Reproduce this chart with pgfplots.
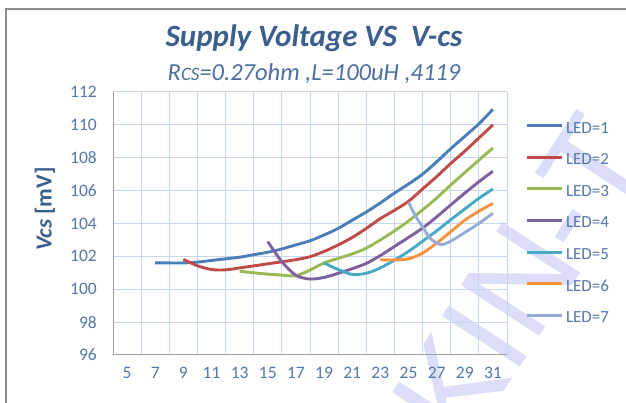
\documentclass[border=0pt]{standalone}
\usepackage{fontspec}
\setmainfont{Carlito}
\newfontfamily\wmfont{Liberation Sans}
\usepackage{pgfplots}
\pgfplotsset{compat=1.18}
\definecolor{cA}{HTML}{4A7EBB}
\definecolor{cB}{HTML}{BE4B48}
\definecolor{cC}{HTML}{98B954}
\definecolor{cD}{HTML}{7D60A0}
\definecolor{cE}{HTML}{46AAC5}
\definecolor{cF}{HTML}{F69240}
\definecolor{cG}{HTML}{95ADD6}
\definecolor{titleblue}{HTML}{3A5F8E}
\definecolor{subblue}{HTML}{4A6FA0}
\definecolor{tickblue}{HTML}{5577A8}
\definecolor{gridblue}{HTML}{C6D6EE}
\definecolor{axisgray}{HTML}{A0A0A0}
\definecolor{framegray}{HTML}{8C8C8C}
\definecolor{wm}{HTML}{DCDEF9}
\begin{document}
\begin{tikzpicture}[x=1pt,y=1pt]
\useasboundingbox (0,0) rectangle (626,403);
\fill[white] (0,0) rectangle (626,403);
\begin{scope}[every node/.style={rotate=57, anchor=base west, inner sep=0pt, font=\fontsize{135}{135}\selectfont\wmfont, color=wm}]
\node at (464,-50) {K};
\node at (513.0,25.5) {I};
\node at (533.4,56.9) {N};
\node at (586.5,138.7) {-};
\node at (611.0,176.4) {T};
\end{scope}
\draw[framegray, line width=1.3pt] (6,-10) -- (6,394) -- (660,394);
\node[font=\fontsize{31}{31}\selectfont\bfseries\itshape, color=titleblue, anchor=base] at (314,356.3) {Supply Voltage VS\ \ V-cs};
\node[font=\fontsize{24.5}{24.5}\selectfont\itshape, color=subblue, anchor=base] at (314,322.3) {R{\fontsize{19}{19}\selectfont CS}=0.27ohm ,L=100uH ,4119};
\begin{axis}[
  at={(113pt,48pt)}, anchor=south west,
  scale only axis, width=394pt, height=263pt,
  xmin=4, xmax=32, ymin=96, ymax=112,
  xtick={5,7,...,31}, minor xtick={4,6,...,32},
  ytick={96,98,...,112},
  xmajorgrids=false, xminorgrids=true, ymajorgrids=true,
  grid style={color=gridblue, line width=1pt},
  minor grid style={color=gridblue, line width=1pt},
  major tick length=0pt, minor tick length=0pt,
  tick style={draw=none},
  axis line style={draw=none},
  /pgf/number format/assume math mode=true,
  ticklabel style={font=\fontsize{17.5}{17.5}\selectfont, color=tickblue},
  xticklabel style={inner sep=0pt, anchor=north, yshift=-12pt},
  yticklabel style={inner sep=0pt, anchor=east, xshift=-16pt},
  ylabel={\textbf{\textit{Vcs}} \textbf{[mV]}},
  ylabel style={at={(axis description cs:-0.1726,0.555)}, anchor=center, font=\fontsize{23}{23}\selectfont, color=titleblue},
  legend style={at={(axis description cs:1.0457,0.8852)}, anchor=north west, draw=none, fill=none,
    inner sep=0pt, outer sep=0pt, row sep=20.6pt, column sep=3pt,
    font=\fontsize{17}{17}\selectfont, text=tickblue,
    nodes={inner sep=0pt, text height=11pt, text depth=0pt}},
  legend cell align=left,
  legend image code/.code={\draw[#1, line width=3pt] (0pt,2pt) -- (35pt,2pt);},
  every axis plot/.append style={line width=2.9pt, smooth, tension=0.5, no markers},
]
\addplot[cA] coordinates {(7,101.6)(8,101.6)(9,101.6)(10,101.65)(11,101.75)(12,101.85)(13,101.95)(14,102.1)(15,102.25)(16,102.45)(17,102.7)(18,102.95)(19,103.3)(20,103.7)(21,104.2)(22,104.7)(23,105.25)(24,105.85)(25,106.4)(26,107.0)(27,107.75)(28,108.55)(29,109.3)(30,110.06)(31,110.95)};
\addplot[cB] coordinates {(9,101.82)(10,101.43)(11,101.2)(12,101.18)(13,101.3)(14,101.42)(15,101.55)(16,101.67)(17,101.8)(18,101.98)(19,102.3)(20,102.69)(21,103.15)(22,103.7)(23,104.3)(24,104.8)(25,105.35)(26,106.1)(27,106.85)(28,107.65)(29,108.4)(30,109.2)(31,110.0)};
\addplot[cC] coordinates {(13,101.1)(14,101.0)(15,100.92)(16,100.86)(17,100.82)(18,101.17)(19,101.6)(20,101.88)(21,102.15)(22,102.5)(23,103.0)(24,103.55)(25,104.15)(26,104.83)(27,105.55)(28,106.34)(29,107.1)(30,107.85)(31,108.6)};
\addplot[cD] coordinates {(15,102.9)(16,101.67)(17,100.85)(18,100.62)(19,100.72)(20,100.97)(21,101.25)(22,101.57)(23,102.05)(24,102.6)(25,103.15)(26,103.72)(27,104.4)(28,105.13)(29,105.85)(30,106.54)(31,107.18)};
\addplot[cE] coordinates {(19,101.6)(20,101.2)(21,100.9)(22,100.97)(23,101.3)(24,101.77)(25,102.3)(26,102.92)(27,103.55)(28,104.23)(29,104.88)(30,105.53)(31,106.1)};
\addplot[cF] coordinates {(23,101.8)(24,101.78)(25,101.85)(26,102.2)(27,102.8)(28,103.5)(29,104.2)(30,104.75)(31,105.22)};
\addplot[cG] coordinates {(25,105.3)(25.5,104.45)(26,103.8)(26.5,103.12)(27,102.82)(27.4,102.72)(28,102.92)(29,103.45)(30,104.0)(31,104.63)};
\legend{LED=1,LED=2,LED=3,LED=4,LED=5,LED=6,LED=7}
\draw[axisgray, line width=1pt] (rel axis cs:0,1) -- (rel axis cs:0,0) -- (rel axis cs:1,0);
\end{axis}
\end{tikzpicture}
\end{document}
